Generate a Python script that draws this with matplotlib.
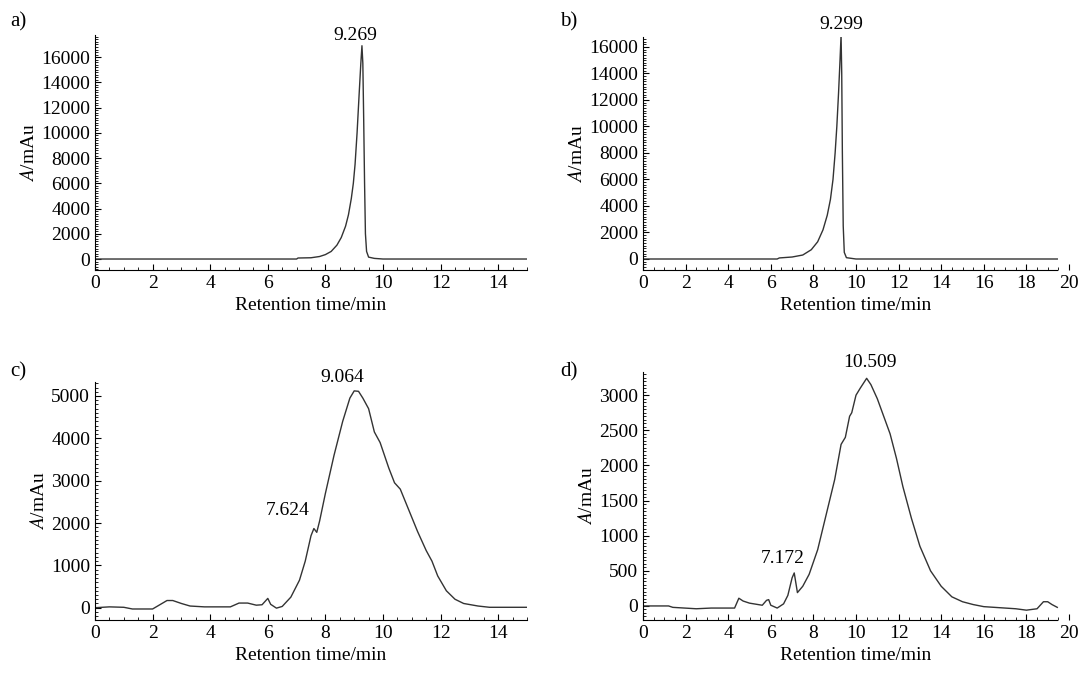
import matplotlib
matplotlib.use("Agg")
import matplotlib.pyplot as plt
from matplotlib.ticker import MultipleLocator, AutoMinorLocator

plt.rcParams['font.family'] = ['Liberation Serif', 'DejaVu Serif']
plt.rcParams['mathtext.fontset'] = 'stix'
plt.rcParams['font.size'] = 14

# chromatogram traces
a_t = [0, 7.0, 7.05, 7.5, 7.8, 8.0, 8.2, 8.4, 8.55, 8.7, 8.8, 8.9, 8.97, 9.03, 9.1, 9.17, 9.23, 9.269,
       9.3, 9.33, 9.36, 9.39, 9.43, 9.5, 9.7, 10, 15]
a_y = [0, 0, 80, 100, 200, 350, 600, 1100, 1700, 2600, 3500, 4800, 6000, 7500, 10000, 13000, 15500, 16900,
       15500, 11000, 6000, 2000, 600, 150, 50, 0, 0]

b_t = [0, 6.3, 6.4, 7.0, 7.5, 7.9, 8.2, 8.45, 8.65, 8.8, 8.92, 9.02, 9.1, 9.18, 9.25, 9.299,
       9.33, 9.36, 9.40, 9.45, 9.55, 10, 19.45]
b_y = [0, 0, 80, 150, 300, 700, 1300, 2200, 3300, 4500, 6000, 8000, 10000, 12500, 15000, 16900,
       14000, 8000, 2500, 500, 100, 0, 0]

c_t = [0, 0.5, 1.0, 1.3, 2.0, 2.2, 2.5, 2.7, 3.0, 3.3, 3.8, 4.7, 5.0, 5.3, 5.6, 5.8, 6.0, 6.1,
       6.3, 6.5, 6.8, 7.1, 7.3, 7.5, 7.6, 7.7, 7.8, 8.0, 8.3, 8.6, 8.85, 9.0, 9.15, 9.3, 9.5,
       9.7, 9.9, 10.2, 10.4, 10.6, 10.9, 11.2, 11.5, 11.7, 11.9, 12.2, 12.5, 12.8, 13.3, 13.7, 15]
c_y = [0, 20, 10, -30, -30, 50, 170, 170, 100, 40, 20, 20, 110, 110, 60, 70, 220, 80,
       -10, 30, 250, 650, 1100, 1700, 1870, 1780, 2050, 2700, 3600, 4400, 4950, 5120, 5110, 4950, 4700,
       4150, 3900, 3300, 2950, 2800, 2300, 1800, 1350, 1100, 750, 400, 200, 100, 40, 10, 10]

d_t = [0, 1.2, 1.4, 2.5, 3.2, 4.3, 4.4, 4.5, 4.7, 5.0, 5.6, 5.8, 5.9, 6.0, 6.3, 6.6, 6.8, 7.0,
       7.1, 7.25, 7.5, 7.8, 8.2, 8.6, 9.0, 9.3, 9.5, 9.7, 9.8, 10.0, 10.2, 10.5, 10.7, 11.0, 11.3,
       11.6, 11.9, 12.2, 12.6, 13.0, 13.5, 14.0, 14.5, 15.0, 15.5, 16.0, 17.0, 17.5, 18.0, 18.5,
       18.8, 19.0, 19.2, 19.45]
d_y = [0, 0, -20, -40, -30, -30, 40, 110, 70, 40, 10, 80, 90, 10, -30, 30, 150, 400,
       470, 190, 280, 450, 800, 1300, 1800, 2300, 2400, 2700, 2750, 3000, 3100, 3240, 3150, 2950, 2700,
       2450, 2100, 1700, 1250, 850, 500, 280, 130, 60, 20, -10, -30, -40, -60, -40,
       60, 60, 20, -20]

W, H = 1082, 684
fig = plt.figure(figsize=(W / 100, H / 100), dpi=100)

def box(l, r, t, b):
    return [l / W, 1 - b / H, (r - l) / W, (b - t) / H]

panels = [
    ('a)', box(95, 527, 35, 270), a_t, a_y, 15, (-870, 17750), 2000, 15, [('9.269', 9.03, 17700, 'center')]),
    ('b)', box(643, 1069, 37, 270), b_t, b_y, 20, (-830, 16750), 2000, 19.45, [('9.299', 9.3, 17700, 'center')]),
    ('c)', box(95, 527, 382, 620), c_t, c_y, 15, (-290, 5330), 1000, 15,
     [('7.624', 7.45, 2300, 'right'), ('9.064', 8.6, 5430, 'center')]),
    ('d)', box(643, 1069, 372, 620), d_t, d_y, 20, (-200, 3330), 500, 19.45,
     [('7.172', 6.57, 680, 'center'), ('10.509', 10.65, 3470, 'center')]),
]
letter_pos = [(10, 22), (560, 22), (10, 372), (560, 372)]

for (lab, rect, t, y, xmax, ylim, ystep, xend, notes), (lx, ly) in zip(panels, letter_pos):
    ax = fig.add_axes(rect)
    ax.plot(t, y, color='#333333', lw=1)
    ax.set_xlim(0, xmax)
    ax.set_ylim(*ylim)
    ax.spines['top'].set_visible(False)
    ax.spines['right'].set_visible(False)
    ax.spines['bottom'].set_bounds(0, xend)
    ax.xaxis.set_major_locator(MultipleLocator(2))
    ax.xaxis.set_minor_locator(MultipleLocator(0.5))
    ax.yaxis.set_major_locator(MultipleLocator(ystep))
    ax.yaxis.set_minor_locator(AutoMinorLocator(10))
    ax.tick_params(which='major', direction='in', length=4, width=0.8)
    ax.tick_params(which='minor', direction='in', length=2, width=0.6)
    ax.set_xlabel('Retention time/min', labelpad=4)
    ax.set_ylabel(r'$\it{A}$/mAu', labelpad=2)
    for txt, x, yy, ha in notes:
        ax.text(x, yy, txt, ha=ha, va='center', clip_on=False)
    fig.text(lx / W, 1 - ly / H, lab, ha='left', va='center', fontsize=15)

fig.savefig('out.png', dpi=100)
